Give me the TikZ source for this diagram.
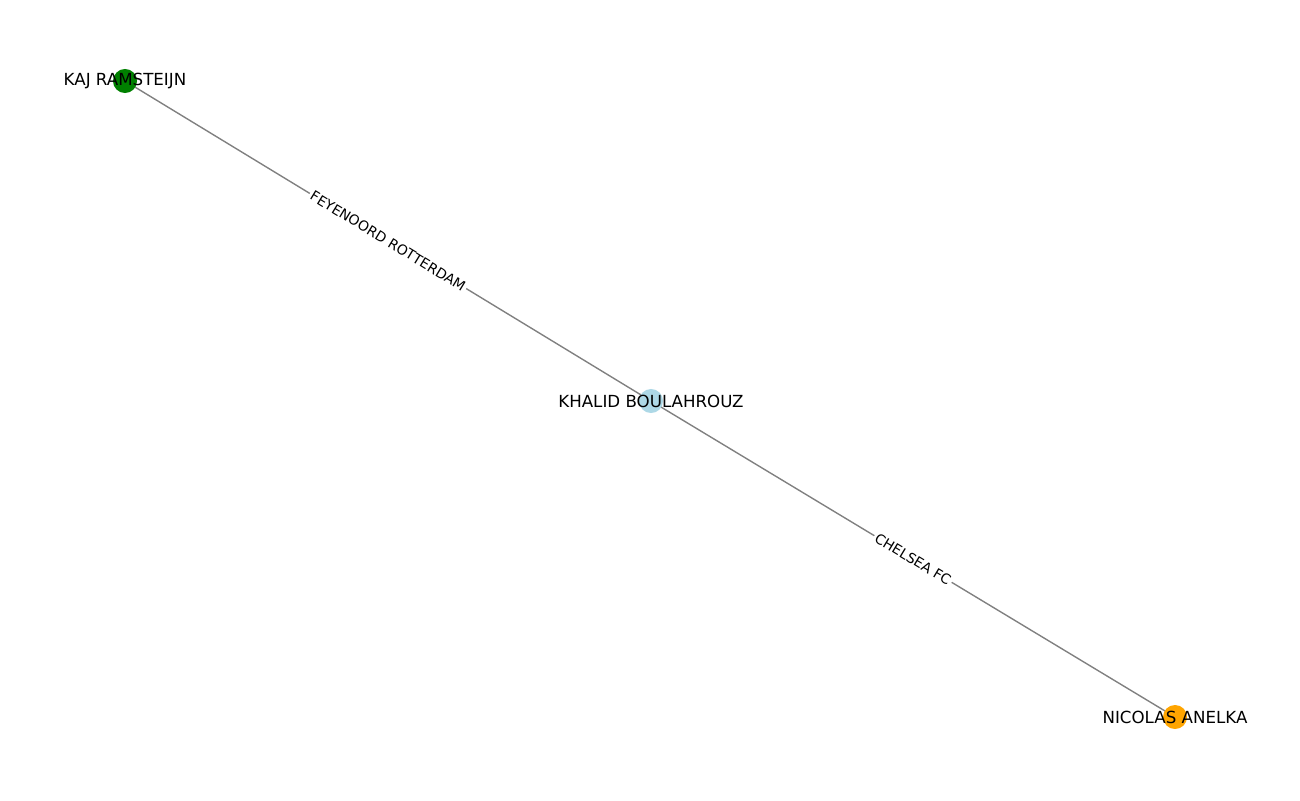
\documentclass[tikz,border=0pt]{standalone}
\usepackage{fontspec}
\setmainfont{DejaVu Sans}
\usetikzlibrary{backgrounds}
\definecolor{mplgreen}{HTML}{008000}
\definecolor{mplblue}{HTML}{ADD8E6}
\definecolor{mplorange}{HTML}{FFA500}
\begin{document}
\begin{tikzpicture}[x=0.72pt,y=-0.72pt]
\tikzstyle{every node}=[inner sep=1pt]
\tikzstyle{dot}=[circle, minimum size=17.3pt, inner sep=0pt]
\tikzstyle{club}=[font=\fontsize{10}{12}\selectfont, text=black, fill=white, sloped, inner sep=1.5pt]
\useasboundingbox (0,0) rectangle (1300,800);
\draw (125,81) node (kaj) [dot,fill=mplgreen] {};
\draw (651,401) node (khalid) [dot,fill=mplblue] {};
\draw (1175,717) node (nicolas) [dot,fill=mplorange] {};
\node (kajlabel) at (kaj) [font=\fontsize{12}{14}\selectfont] {KAJ RAMSTEIJN};
\node (khalidlabel) at (khalid) [font=\fontsize{12}{14}\selectfont] {KHALID BOULAHROUZ};
\node (nicolaslabel) at (nicolas) [font=\fontsize{12}{14}\selectfont] {NICOLAS ANELKA};
\begin{pgfonlayer}{background}
\draw[gray, line width=1pt] (kaj.center) -- node (feyenoord) [club] {FEYENOORD ROTTERDAM} (khalid.center);
\draw[gray, line width=1pt] (khalid.center) -- node (chelsea) [club] {CHELSEA FC} (nicolas.center);
\end{pgfonlayer}
\end{tikzpicture}
\end{document}
